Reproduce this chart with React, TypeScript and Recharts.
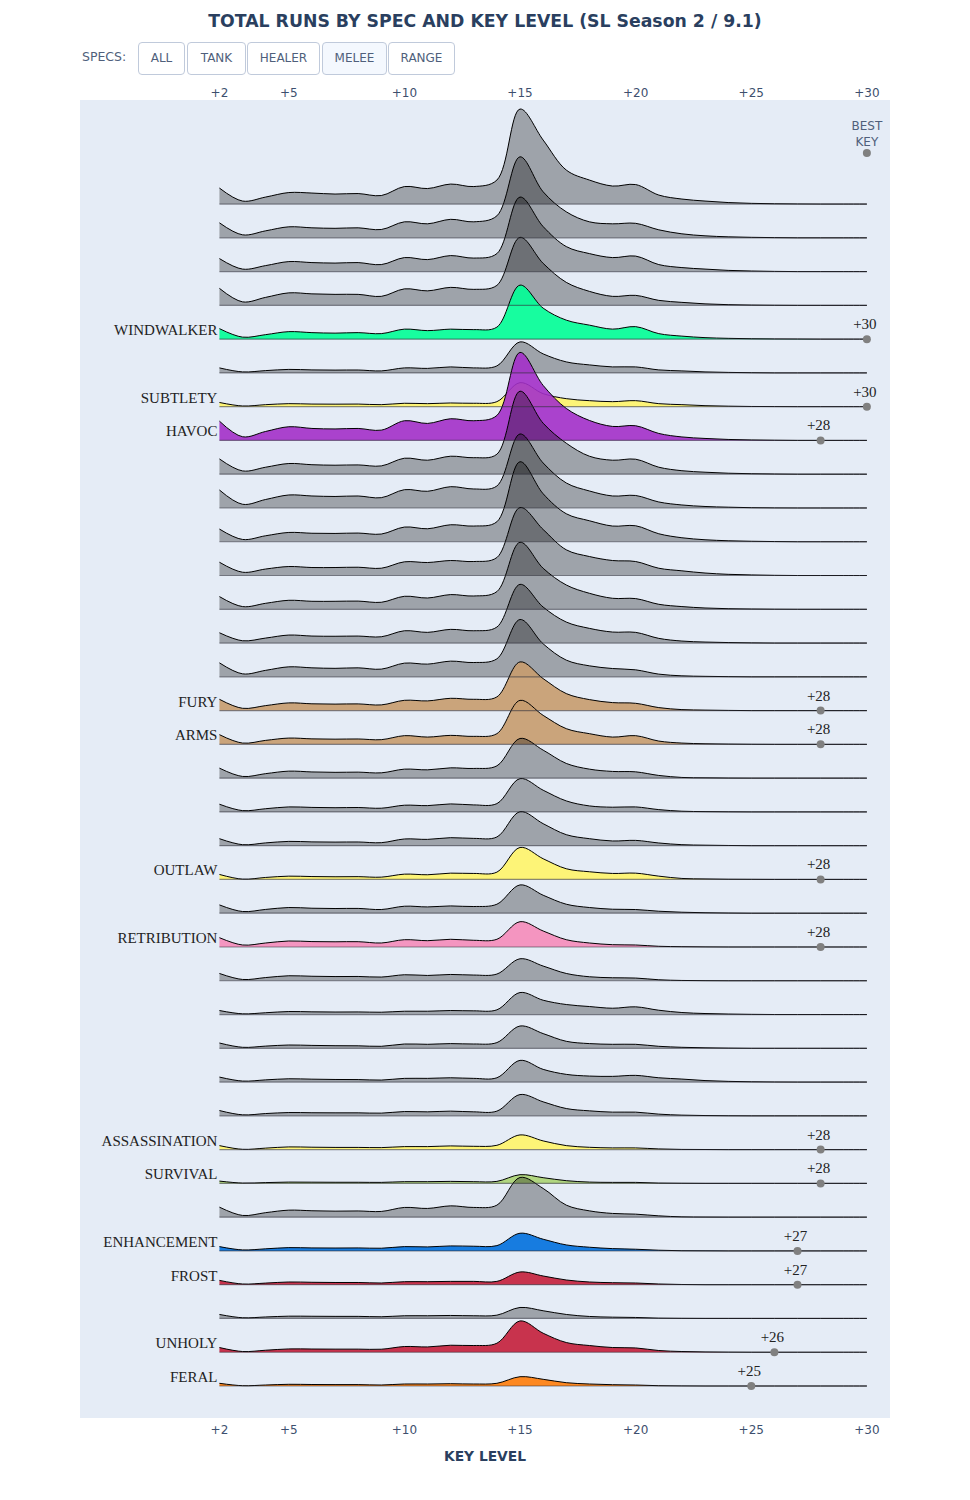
import {
  Area,
  CartesianGrid,
  ComposedChart,
  ReferenceLine,
  Scatter,
  XAxis,
  YAxis,
} from "recharts";

const keyLevels = [2, 3, 4, 5, 6, 7, 8, 9, 10, 11, 12, 13, 14, 15, 16, 17, 18, 19, 20, 21, 22, 23, 24, 25, 26, 27, 28, 29, 30];
const tickLevels = [2, 5, 10, 15, 20, 25, 30];

// one list per spec, runs by key level, top row first
const row00 = [16, 3, 7, 11.5, 11, 10, 10.5, 8.5, 17.5, 15.5, 20, 17.5, 24, 95, 64, 34, 24, 18, 19.5, 9, 5, 3, 1.5, 0.7, 0.3, 0.1, 0, 0, 0];
const row01 = [15, 3, 7, 11, 10, 9.5, 10, 8.3, 16, 14, 18.5, 16, 22, 81, 46, 26, 16, 14, 14.5, 8, 4, 2, 1, 0.5, 0.2, 0, 0, 0, 0];
const row02 = [13, 2.5, 6, 10, 9, 8.5, 9, 7, 14, 12, 16, 13.5, 18, 74.5, 45, 25, 18, 14, 15.5, 7, 4, 2.5, 1.2, 0.6, 0.2, 0, 0, 0, 0];
const row03 = [17, 3.5, 8, 12.5, 11.5, 11, 11, 9, 16.5, 14.5, 18, 16, 20, 68, 42, 23, 14, 9, 10, 5, 3, 1.5, 0.7, 0.3, 0.1, 0, 0, 0, 0];
const row04 = [10.5, 2, 4.5, 7.5, 6.5, 6, 6.5, 5.5, 10, 8.5, 10, 9.5, 12, 54, 31, 19, 14, 10, 12.5, 5.5, 3, 1.5, 0.8, 0.4, 0.2, 0.1, 0, 0, 0];
const row05 = [5, 1, 2.3, 3.5, 3, 2.8, 2.9, 2, 5, 4.5, 6, 5, 7, 31, 19, 11, 8, 6, 6, 3, 2, 1, 0.5, 0.2, 0, 0, 0, 0, 0];
const row06 = [4.2, 0.7, 2, 3, 2.6, 2.5, 2.6, 2, 3.4, 3, 3.7, 3.4, 5, 24, 13, 8, 6, 5, 6, 3, 2, 1, 0.5, 0.2, 0.1, 0, 0, 0, 0];
const row07 = [19.3, 3.7, 9, 13.7, 12, 11.5, 12, 10.3, 19.7, 17, 21.7, 19.7, 25, 88, 55, 32, 20, 14, 14.7, 7, 3.5, 2, 1, 0.5, 0.2, 0, 0, 0, 0];
const row08 = [15.3, 3.3, 7, 10.7, 9.5, 9, 9.3, 8.3, 16, 14, 18, 16.5, 20, 83, 51, 31, 18, 14, 15, 7, 3.5, 2, 1, 0.5, 0.2, 0, 0, 0, 0];
const row09 = [18, 3.7, 8.5, 13, 12, 11.5, 12, 10.3, 18.3, 16.7, 21.3, 19, 22, 74, 45, 25, 17, 12, 12.5, 6, 3, 1.5, 0.8, 0.3, 0.1, 0, 0, 0, 0];
const row10 = [12.7, 2.3, 6, 9.3, 8.5, 8.3, 8.7, 7.7, 14.7, 13, 17, 15.7, 20, 80, 48, 28, 21, 15.7, 16, 8, 4, 2, 1, 0.5, 0.2, 0, 0, 0, 0];
const row11 = [13.3, 3.3, 6.5, 9, 8, 8, 8.3, 7.3, 13.7, 13, 15, 14, 18, 68, 46, 25.7, 19, 15, 14, 7.3, 4.7, 2.5, 1.2, 0.6, 0.2, 0, 0, 0, 0];
const row12 = [12.7, 2.7, 6, 9, 8, 8, 8.2, 7, 13, 11.3, 14.7, 13.3, 17.7, 67, 41, 24.3, 16, 11, 10.7, 5, 2.7, 1.3, 0.6, 0.3, 0.1, 0, 0, 0, 0];
const row13 = [10.3, 2.3, 5, 8, 7, 6.8, 7, 6.3, 12.3, 10.7, 13.7, 12.3, 16, 58.7, 36, 21, 14.7, 11, 10.7, 4.7, 2, 1, 0.5, 0.2, 0, 0, 0, 0, 0];
const row14 = [14, 3, 6.5, 10, 9, 8.5, 9, 7.7, 13.7, 12.7, 15.7, 14.3, 18, 57.3, 33, 16.7, 11, 8.3, 7, 2.7, 1, 0.5, 0.2, 0, 0, 0, 0, 0, 0];
const row15 = [11.3, 2.3, 5, 7.7, 6.8, 6.5, 6.7, 5.7, 10.3, 9.7, 12.3, 11.3, 13.7, 48.7, 32, 17, 11, 8, 7.3, 3, 1, 0.5, 0.2, 0, 0, 0, 0, 0, 0];
const row16 = [9.7, 1.3, 4, 6.3, 5.5, 5.2, 5.4, 4.7, 8.7, 7.3, 9, 8, 10.7, 44, 29, 15.7, 10.7, 7.3, 8.7, 3.3, 1.3, 0.6, 0.3, 0.1, 0, 0, 0, 0, 0];
const row17 = [10, 1.7, 4.5, 7, 6.2, 5.8, 6, 5.3, 9, 8.3, 10.3, 9.7, 12.3, 39.7, 28, 14.7, 9, 6.7, 6.3, 2.7, 0.7, 0.3, 0.1, 0, 0, 0, 0, 0, 0];
const row18 = [7.7, 1.3, 3.2, 5, 4.5, 4.2, 4.4, 3.7, 6.7, 6.3, 8, 7, 8.3, 33.3, 21.7, 11, 6, 4.7, 5, 2.3, 0.7, 0.3, 0.1, 0, 0, 0, 0, 0, 0];
const row19 = [7, 1, 2.8, 4.3, 3.8, 3.6, 3.7, 3, 6.7, 6.3, 8, 7.3, 8.7, 34, 22, 11, 7, 4.7, 5.3, 2.7, 1, 0.5, 0.2, 0, 0, 0, 0, 0, 0];
const row20 = [5, 0.3, 2, 3.3, 2.9, 2.7, 2.8, 2.3, 5.3, 4.7, 6.3, 6, 7.3, 32, 20.7, 10.7, 7.7, 6, 6.3, 3.3, 1, 0.5, 0.2, 0.1, 0, 0, 0, 0, 0];
const row21 = [8.3, 1.7, 3.8, 5.7, 5, 4.7, 4.8, 3.7, 7, 6.3, 7.3, 6.7, 9, 28.3, 18, 9, 5.7, 4, 3.7, 2, 1, 0.5, 0.2, 0, 0, 0, 0, 0, 0];
const row22 = [9.3, 2, 4, 6, 5.4, 5.2, 5.3, 4, 7.3, 6.3, 7.7, 6.7, 7.7, 25.3, 16, 7.3, 4, 2.3, 2, 0.7, 0.3, 0.1, 0, 0, 0, 0, 0, 0, 0];
const row23 = [7.3, 1.3, 3.2, 5, 4.5, 4.2, 4.3, 3.7, 6, 5.3, 6.3, 5.7, 6.7, 22, 14.7, 7.3, 4, 3, 2.7, 1, 0.3, 0.1, 0, 0, 0, 0, 0, 0, 0];
const row24 = [4, 0.7, 1.8, 3, 2.7, 2.5, 2.6, 2.3, 3.3, 3.3, 4, 3.7, 4.7, 22, 14.3, 10, 8, 6.3, 7.7, 4.3, 2, 1, 0.5, 0.2, 0, 0, 0, 0, 0];
const row25 = [5.3, 1, 2.2, 3.3, 2.9, 2.6, 2.5, 2, 4.3, 4, 4.7, 4.3, 5.7, 22.3, 14.7, 7, 4.7, 4, 4, 2, 1, 0.5, 0.2, 0, 0, 0, 0, 0, 0];
const row26 = [5, 1, 2.2, 3.3, 2.9, 2.6, 2.5, 2, 3.7, 3.7, 4.3, 3.7, 4.3, 21.7, 12.7, 7.7, 6, 5.7, 6.7, 4.3, 3, 1.5, 0.7, 0.3, 0.1, 0, 0, 0, 0];
const row27 = [5.3, 1, 2.3, 3.3, 3.1, 3, 3, 2.7, 4.3, 4, 4.7, 4, 4.7, 21.3, 14, 7.3, 5, 3.7, 3.7, 1.7, 0.7, 0.3, 0.1, 0, 0, 0, 0, 0, 0];
const row28 = [4, 0.3, 1.5, 2.7, 2.4, 2.2, 2.2, 2, 3, 3, 3.7, 3.3, 4.3, 14.7, 8.7, 4, 2.3, 1.7, 1.7, 0.7, 0.2, 0.1, 0, 0, 0, 0, 0, 0, 0];
const row29 = [2.3, 0.3, 0.8, 1.3, 1.2, 1.1, 1.1, 1, 1.7, 1.7, 2, 1.7, 2, 8.7, 5.7, 2.7, 1.3, 1, 1, 0.3, 0.1, 0, 0, 0, 0, 0, 0, 0, 0];
const row30 = [10, 1.7, 4.5, 7, 6.4, 6, 6.2, 5.7, 9.7, 8.7, 11.3, 9.7, 12, 39.7, 28.7, 12, 6.3, 3.7, 3, 1.3, 0.3, 0.1, 0, 0, 0, 0, 0, 0, 0];
const row31 = [4.3, 1, 2.1, 3.3, 3, 2.9, 3, 2.7, 4.3, 4, 5, 4.7, 5.3, 17.7, 11.7, 6, 3.7, 2.3, 1.7, 0.7, 0.2, 0.1, 0, 0, 0, 0, 0, 0, 0];
const row32 = [4.3, 0.7, 1.6, 2.7, 2.4, 2.2, 2.2, 1.7, 3, 3, 3.3, 3.3, 3.3, 12.7, 8.7, 4.7, 2.7, 2, 1.7, 0.7, 0.2, 0, 0, 0, 0, 0, 0, 0, 0];
const row33 = [4, 0.7, 1.5, 2.3, 2.2, 2.1, 2.1, 1.7, 2.7, 2.7, 3, 2.7, 3.3, 11, 7.7, 4, 2, 1.3, 1, 0.3, 0.1, 0, 0, 0, 0, 0, 0, 0, 0];
const row34 = [4.7, 0.7, 2, 3.3, 3.2, 3.1, 3.1, 3, 5.7, 5.3, 7, 6.7, 9, 31.3, 19, 9.7, 6.7, 4.7, 4.3, 1.7, 0.7, 0.3, 0.1, 0, 0, 0, 0, 0, 0];
const row35 = [2.7, 0.3, 1, 1.7, 1.5, 1.4, 1.4, 1, 2, 2, 2.3, 2, 2.7, 9.3, 6.7, 3.3, 2, 1.3, 1, 0.3, 0.1, 0, 0, 0, 0, 0, 0, 0, 0];

const rows = [
  row00, row01, row02, row03, row04, row05, row06, row07, row08, row09, row10, row11,
  row12, row13, row14, row15, row16, row17, row18, row19, row20, row21, row22, row23,
  row24, row25, row26, row27, row28, row29, row30, row31, row32, row33, row34, row35,
];

const specs = [
  { row: 4, name: "WINDWALKER", color: "#00FF96", best: 30 },
  { row: 6, name: "SUBTLETY", color: "#FFF569", best: 30 },
  { row: 7, name: "HAVOC", color: "#A330C9", best: 28 },
  { row: 15, name: "FURY", color: "#C79C6E", best: 28 },
  { row: 16, name: "ARMS", color: "#C79C6E", best: 28 },
  { row: 20, name: "OUTLAW", color: "#FFF569", best: 28 },
  { row: 22, name: "RETRIBUTION", color: "#F58CBA", best: 28 },
  { row: 28, name: "ASSASSINATION", color: "#FFF569", best: 28 },
  { row: 29, name: "SURVIVAL", color: "#ABD473", best: 28 },
  { row: 31, name: "ENHANCEMENT", color: "#0070DE", best: 27 },
  { row: 32, name: "FROST", color: "#C41F3B", best: 27 },
  { row: 34, name: "UNHOLY", color: "#C41F3B", best: 26 },
  { row: 35, name: "FERAL", color: "#FF7D0A", best: 25 },
];

const buttons = ["ALL", "TANK", "HEALER", "MELEE", "RANGE"];
const buttonLeft = [138, 187, 247, 322, 388];
const buttonWidth = [45, 57, 71, 63, 65];

const rowGap = 33.77;
const baseOf = (row: number) => (rows.length - 1 - row) * rowGap;

const table = keyLevels.map((key, i) => {
  const point: Record<string, number> = { key };
  rows.forEach((values, row) => {
    point[`r${row}`] = baseOf(row) + values[i];
  });
  return point;
});

const bestPoints = specs.map((s) => ({ key: s.best, y: baseOf(s.row), label: `+${s.best}` }));
const namePoints = specs.map((s) => ({ key: 2, y: baseOf(s.row), label: s.name }));
const headerPoint = [{ key: 30, y: 1233 }];

const serif = "'Liberation Serif', serif";
const sans = "'DejaVu Sans', sans-serif";
const ink = "#2a3f5f";
const tickInk = "#3d4f6e";

// same tangents as a smoothed plotly spline, d3 curve interface
function tangent(a: number[], b: number[], c: number[]) {
  const d1x = a[0] - b[0];
  const d1y = a[1] - b[1];
  const d2x = c[0] - b[0];
  const d2y = c[1] - b[1];
  const d1 = Math.pow(d1x * d1x + d1y * d1y, 0.25);
  const d2 = Math.pow(d2x * d2x + d2y * d2y, 0.25);
  const nx = d2 * d2 * d1x - d1 * d1 * d2x;
  const ny = d2 * d2 * d1y - d1 * d1 * d2y;
  const s1 = 3 * d2 * (d1 + d2);
  const s2 = 3 * d1 * (d1 + d2);
  return [
    [b[0] + (s1 && nx / s1), b[1] + (s1 && ny / s1)],
    [b[0] - (s2 && nx / s2), b[1] - (s2 && ny / s2)],
  ];
}

function splineCurve(ctx: any) {
  let pts: number[][] = [];
  let line = NaN;
  return {
    areaStart() {
      line = 0;
    },
    areaEnd() {
      line = NaN;
    },
    lineStart() {
      pts = [];
    },
    point(x: number, y: number) {
      pts.push([+x, +y]);
    },
    lineEnd() {
      const n = pts.length;
      if (n) {
        if (line) ctx.lineTo(pts[0][0], pts[0][1]);
        else ctx.moveTo(pts[0][0], pts[0][1]);
        if (n === 2) ctx.lineTo(pts[1][0], pts[1][1]);
        if (n > 2) {
          const t: number[][][] = [];
          for (let i = 1; i < n - 1; i++) t.push(tangent(pts[i - 1], pts[i], pts[i + 1]));
          ctx.quadraticCurveTo(t[0][0][0], t[0][0][1], pts[1][0], pts[1][1]);
          for (let i = 2; i < n - 1; i++) {
            ctx.bezierCurveTo(t[i - 2][1][0], t[i - 2][1][1], t[i - 1][0][0], t[i - 1][0][1], pts[i][0], pts[i][1]);
          }
          ctx.quadraticCurveTo(t[n - 3][1][0], t[n - 3][1][1], pts[n - 1][0], pts[n - 1][1]);
        }
      }
      if (line || (line !== 0 && n === 1)) ctx.closePath();
      line = 1 - line;
    },
  };
}

const BestDot = (p: any) => (
  <g>
    <circle cx={p.cx} cy={p.cy} r={4} fill="#808080" />
    <text x={p.cx - 2} y={p.cy - 10} textAnchor="middle" fontFamily={serif} fontSize={15} fill="#222">
      {p.payload.label}
    </text>
  </g>
);

const NameText = (p: any) => (
  <text x={p.cx - 2} y={p.cy - 4} textAnchor="end" fontFamily={serif} fontSize={15} fill="#222">
    {p.payload.label}
  </text>
);

const HeaderDot = (p: any) => (
  <g>
    <circle cx={p.cx} cy={p.cy} r={4} fill="#808080" />
    <text textAnchor="middle" fontFamily={sans} fontSize={12} fill="#4f5f7b">
      <tspan x={p.cx} y={p.cy - 23}>BEST</tspan>
      <tspan x={p.cx} y={p.cy - 7}>KEY</tspan>
    </text>
  </g>
);

export default function App() {
  return (
    <div style={{ position: "absolute", left: 0, top: 0, width: 970, height: 1500, fontFamily: sans }}>
      <div
        style={{
          position: "absolute",
          top: 11,
          left: 0,
          width: 970,
          textAlign: "center",
          fontSize: 17.3,
          fontWeight: "bold",
          color: ink,
        }}
      >
        TOTAL RUNS BY SPEC AND KEY LEVEL (SL Season 2 / 9.1)
      </div>
      <div style={{ position: "absolute", left: 82, top: 49, fontSize: 12.5, color: "#4f5f7b" }}>SPECS:</div>
      {buttons.map((b, i) => (
        <div
          key={b}
          style={{
            position: "absolute",
            left: buttonLeft[i],
            top: 42,
            width: buttonWidth[i],
            height: 31,
            lineHeight: "30px",
            textAlign: "center",
            fontSize: 12,
            color: "#4f5f7b",
            border: "1px solid #c0cadb",
            borderRadius: 4,
            background: b === "MELEE" ? "#f4f8fe" : "#fff",
          }}
        >
          {b}
        </div>
      ))}
      <div style={{ position: "absolute", left: 0, top: 1448, width: 970, textAlign: "center", fontSize: 13.8, fontWeight: "bold", color: ink }}>
        KEY LEVEL
      </div>
      <div style={{ position: "absolute", left: 0, top: 0 }}>
        <ComposedChart
          width={970}
          height={1500}
          data={table}
          margin={{ top: 70, right: 80, bottom: 52, left: 80 }}
        >
          <rect x={80} y={100} width={810} height={1318} fill="#E5ECF6" />
          <CartesianGrid horizontal={false} stroke="#fff" strokeWidth={2} />
          <XAxis
            dataKey="key"
            type="number"
            domain={[-4.03, 31]}
            ticks={tickLevels}
            interval={0}
            height={30}
            axisLine={false}
            tickLine={false}
            tickSize={5}
            tick={{ fontSize: 12, fill: tickInk, fontFamily: sans }}
            tickFormatter={(v) => `+${v}`}
          />
          <XAxis
            xAxisId="top"
            orientation="top"
            dataKey="key"
            type="number"
            domain={[-4.03, 31]}
            ticks={tickLevels}
            interval={0}
            height={30}
            axisLine={false}
            tickLine={false}
            tickSize={1}
            tick={{ fontSize: 12, fill: tickInk, fontFamily: sans }}
            tickFormatter={(v) => `+${v}`}
          />
          <YAxis hide dataKey="y" type="number" domain={[-32, 1286]} />
          {rows.map((_, row) => {
            const spec = specs.find((s) => s.row === row);
            return (
              <Area
                key={row}
                dataKey={`r${row}`}
                baseValue={baseOf(row)}
                type={splineCurve as any}
                stroke="#000"
                strokeWidth={1}
                fill={spec ? spec.color : "#000"}
                fillOpacity={spec ? 0.9 : 0.31}
                dot={false}
                activeDot={false}
                isAnimationActive={false}
              />
            );
          })}
          {rows.map((_, row) => (
            <ReferenceLine
              key={row}
              segment={[
                { x: 2, y: baseOf(row) },
                { x: 30, y: baseOf(row) },
              ]}
              stroke="rgba(50,50,60,0.55)"
              strokeWidth={1.2}
            />
          ))}
          <Scatter data={namePoints} shape={NameText} isAnimationActive={false} />
          <Scatter data={bestPoints} shape={BestDot} isAnimationActive={false} />
          <Scatter data={headerPoint} shape={HeaderDot} isAnimationActive={false} />
        </ComposedChart>
      </div>
    </div>
  );
}
